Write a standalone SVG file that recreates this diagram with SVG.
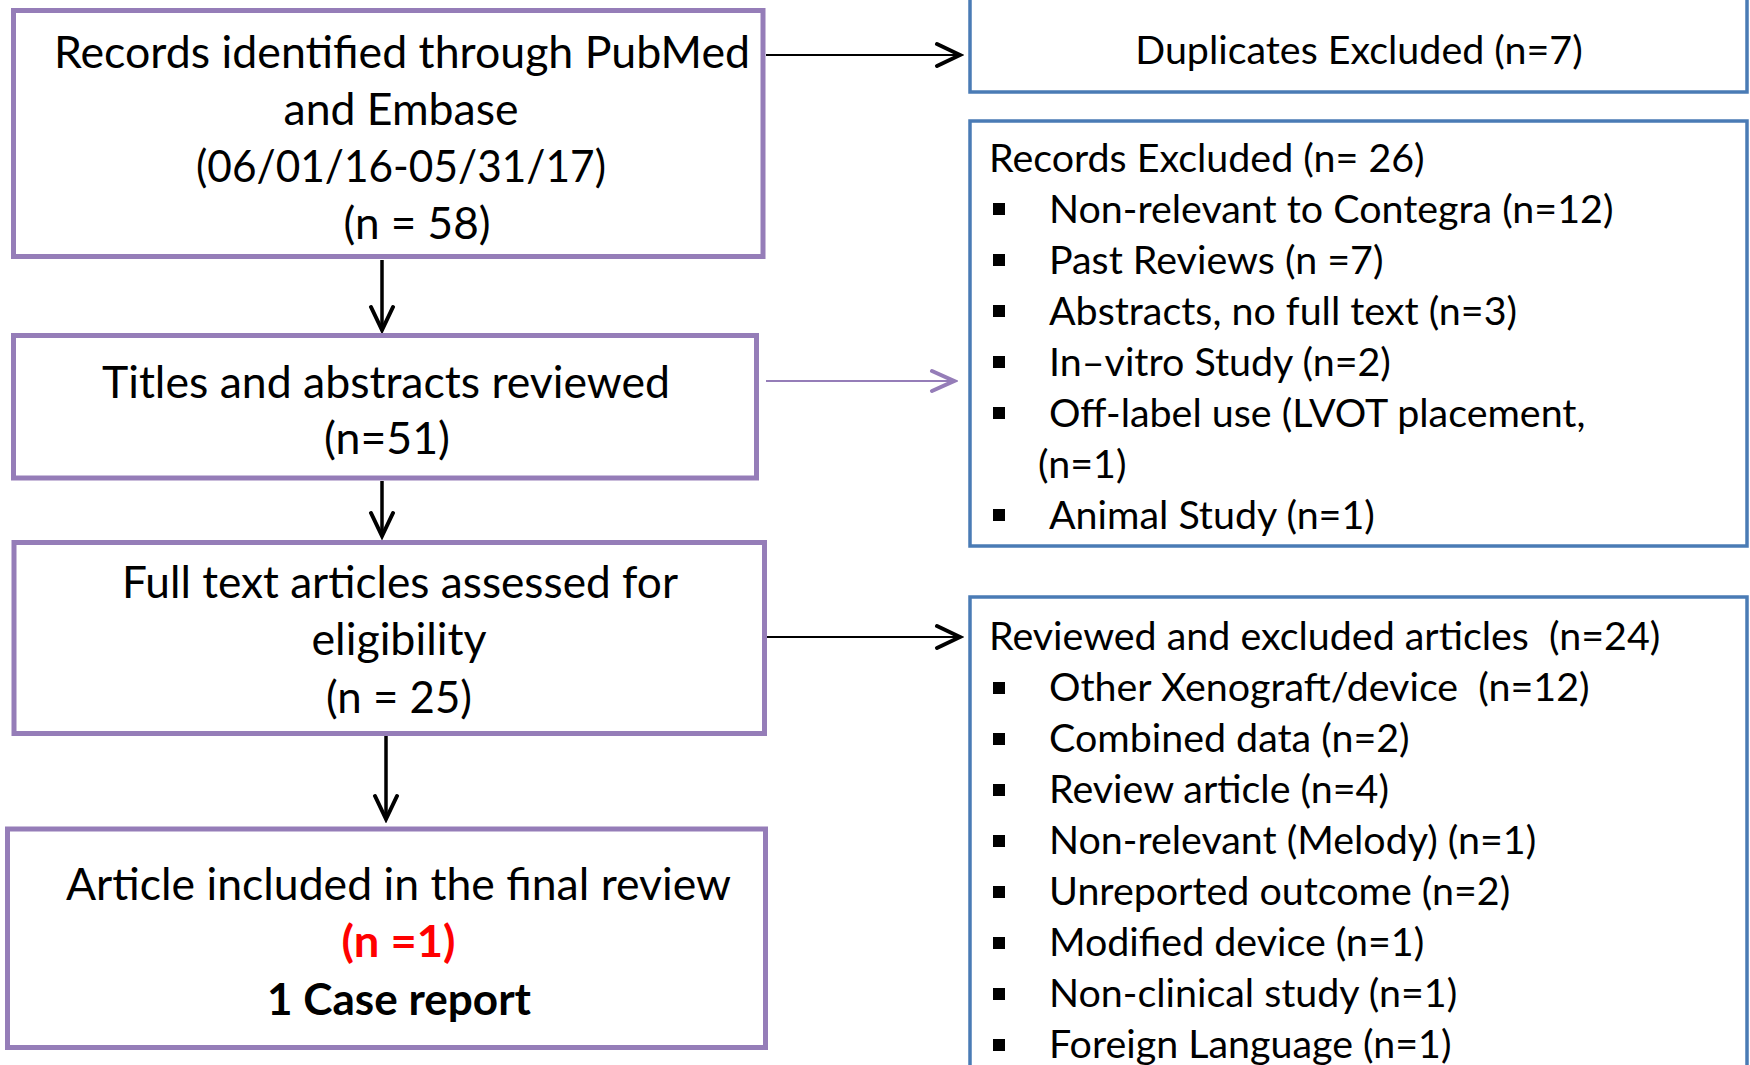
<svg xmlns="http://www.w3.org/2000/svg" width="1750" height="1065" viewBox="0 0 1750 1065">
  <style>
    .bg { fill: #ffffff; }
    .pbox { fill: #ffffff; stroke: #957DB8; stroke-width: 5; }
    .bbox { fill: #ffffff; stroke: #4A7BB5; stroke-width: 3.5; }
    .t { font-family: Lato, "Liberation Sans", sans-serif; fill: #000000; }
    .lt { font-size: 44.5px; text-anchor: middle; }
    .rt { font-size: 39.4px; }
    .bold { font-weight: bold; }
    .red { fill: #FF0000; }
    .blk { stroke: #000000; fill: none; }
    .pur { stroke: #957DB8; fill: none; }
    .bullet { fill: #000000; }
  </style>
  <defs>
    <marker id="ahBlack" markerUnits="userSpaceOnUse" markerWidth="30" markerHeight="30" viewBox="-26 -14 30 28" refX="0" refY="0" orient="auto">
      <path d="M -23 -11 L 0 0 L -23 11" fill="none" stroke="#000000" stroke-width="4" stroke-linecap="round" stroke-linejoin="miter"/>
    </marker>
    <marker id="ahPurple" markerUnits="userSpaceOnUse" markerWidth="30" markerHeight="30" viewBox="-26 -14 30 28" refX="0" refY="0" orient="auto">
      <path d="M -22 -10 L 0 0 L -22 10" fill="none" stroke="#957DB8" stroke-width="4" stroke-linecap="round" stroke-linejoin="miter"/>
    </marker>
  </defs>
  <rect class="bg" x="0" y="0" width="1750" height="1065"/>

  <g id="connectors">
    <line class="blk" x1="766" y1="55" x2="960" y2="55" stroke-width="2.2" marker-end="url(#ahBlack)"/>
    <line class="pur" x1="766" y1="381" x2="954" y2="381" stroke-width="2.2" marker-end="url(#ahPurple)"/>
    <line class="blk" x1="766" y1="637" x2="960" y2="637" stroke-width="2.2" marker-end="url(#ahBlack)"/>
    <line class="blk" x1="382" y1="260" x2="382" y2="330" stroke-width="3.5" marker-end="url(#ahBlack)"/>
    <line class="blk" x1="382" y1="481" x2="382" y2="536" stroke-width="3.5" marker-end="url(#ahBlack)"/>
    <line class="blk" x1="386" y1="736" x2="386" y2="819" stroke-width="3.5" marker-end="url(#ahBlack)"/>
  </g>

  <g id="records-identified">
    <rect class="pbox" x="13.5" y="10.5" width="749.5" height="246"/>
    <text class="t lt" x="402" y="68" textLength="696" lengthAdjust="spacingAndGlyphs">Records identified through PubMed</text>
    <text class="t lt" x="401" y="125" textLength="235" lengthAdjust="spacingAndGlyphs">and Embase</text>
    <text class="t lt" x="401" y="182" textLength="410" lengthAdjust="spacingAndGlyphs">(06/01/16-05/31/17)</text>
    <text class="t lt" x="417" y="239" textLength="147" lengthAdjust="spacingAndGlyphs">(n = 58)</text>
  </g>

  <g id="titles-reviewed">
    <rect class="pbox" x="13.5" y="335.5" width="743" height="142.5"/>
    <text class="t lt" x="386" y="398" textLength="568" lengthAdjust="spacingAndGlyphs">Titles and abstracts reviewed</text>
    <text class="t lt" x="387" y="454" textLength="126" lengthAdjust="spacingAndGlyphs">(n=51)</text>
  </g>

  <g id="full-text">
    <rect class="pbox" x="14" y="542.5" width="750.5" height="191"/>
    <text class="t lt" x="400" y="598" textLength="556" lengthAdjust="spacingAndGlyphs">Full text articles assessed for</text>
    <text class="t lt" x="399" y="655" textLength="175" lengthAdjust="spacingAndGlyphs">eligibility</text>
    <text class="t lt" x="399" y="713" textLength="146" lengthAdjust="spacingAndGlyphs">(n = 25)</text>
  </g>

  <g id="included">
    <rect class="pbox" x="7.5" y="829" width="758" height="218.5"/>
    <text class="t lt" x="398.5" y="900" textLength="665" lengthAdjust="spacingAndGlyphs">Article included in the final review</text>
    <text class="t lt bold red" x="398.5" y="957" textLength="114" lengthAdjust="spacingAndGlyphs">(n =1)</text>
    <text class="t lt bold" x="399" y="1015" textLength="264" lengthAdjust="spacingAndGlyphs">1 Case report</text>
  </g>

  <g id="duplicates">
    <rect class="bbox" x="970" y="-10" width="777" height="102"/>
    <text class="t rt" x="1359" y="64" text-anchor="middle">Duplicates Excluded (n=7)</text>
  </g>

  <g id="records-excluded">
    <rect class="bbox" x="970" y="121" width="777" height="425"/>
    <text class="t rt" x="989" y="172">Records Excluded (n= 26)</text>
    <rect class="bullet" x="993" y="203" width="12" height="12"/>
    <text class="t rt" x="1049" y="223">Non-relevant to Contegra (n=12)</text>
    <rect class="bullet" x="993" y="254" width="12" height="12"/>
    <text class="t rt" x="1049" y="274">Past Reviews (n =7)</text>
    <rect class="bullet" x="993" y="305" width="12" height="12"/>
    <text class="t rt" x="1049" y="325">Abstracts, no full text (n=3)</text>
    <rect class="bullet" x="993" y="356" width="12" height="12"/>
    <text class="t rt" x="1049" y="376">In–vitro Study (n=2)</text>
    <rect class="bullet" x="993" y="407" width="12" height="12"/>
    <text class="t rt" x="1049" y="427">Off-label use (LVOT placement,</text>
    <text class="t rt" x="1038" y="478">(n=1)</text>
    <rect class="bullet" x="993" y="509" width="12" height="12"/>
    <text class="t rt" x="1049" y="529">Animal Study (n=1)</text>
  </g>

  <g id="reviewed-excluded">
    <rect class="bbox" x="970" y="597" width="777" height="500"/>
    <text class="t rt" x="989" y="650" xml:space="preserve">Reviewed and excluded articles  (n=24)</text>
    <rect class="bullet" x="993" y="682" width="12" height="12"/>
    <text class="t rt" x="1049" y="701" xml:space="preserve">Other Xenograft/device  (n=12)</text>
    <rect class="bullet" x="993" y="733" width="12" height="12"/>
    <text class="t rt" x="1049" y="752">Combined data (n=2)</text>
    <rect class="bullet" x="993" y="784" width="12" height="12"/>
    <text class="t rt" x="1049" y="803">Review article (n=4)</text>
    <rect class="bullet" x="993" y="835" width="12" height="12"/>
    <text class="t rt" x="1049" y="854">Non-relevant (Melody) (n=1)</text>
    <rect class="bullet" x="993" y="886" width="12" height="12"/>
    <text class="t rt" x="1049" y="905">Unreported outcome (n=2)</text>
    <rect class="bullet" x="993" y="937" width="12" height="12"/>
    <text class="t rt" x="1049" y="956">Modified device (n=1)</text>
    <rect class="bullet" x="993" y="988" width="12" height="12"/>
    <text class="t rt" x="1049" y="1007">Non-clinical study (n=1)</text>
    <rect class="bullet" x="993" y="1039" width="12" height="12"/>
    <text class="t rt" x="1049" y="1058">Foreign Language (n=1)</text>
  </g>
</svg>
